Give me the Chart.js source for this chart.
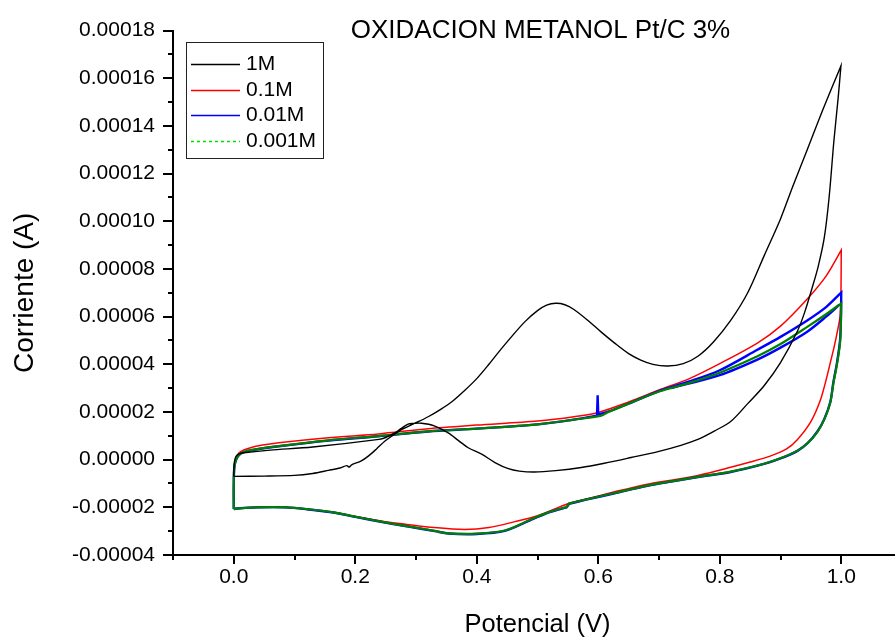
<!DOCTYPE html>
<html lang="es">
<head>
<meta charset="utf-8">
<title>OXIDACION METANOL Pt/C 3%</title>
<script src="https://cdn.jsdelivr.net/npm/chart.js@4.4.1/dist/chart.umd.min.js"></script>
<style>
  html, body { margin: 0; padding: 0; background: #fff; overflow: hidden; }
  #wrap { width: 895px; height: 642px; overflow: hidden; }
</style>
</head>
<body>
<div id="wrap"><canvas id="cv" width="912" height="642"></canvas></div>
<script>
// voltametria ciclica, Pt/C 3% en metanol (potencial en V, corriente en A)
// los puntos repetidos marcan esquinas (la curva se suaviza con tension)
const titulo = "OXIDACION METANOL Pt/C 3%";
const etiquetas = ["1M", "0.1M", "0.01M", "0.001M"];

const xTicks = [-0.1, 0.0, 0.1, 0.2, 0.3, 0.4, 0.5, 0.6, 0.7, 0.8, 0.9, 1.0, 1.1];
const yTicks = [-0.00004, -0.00003, -0.00002, -0.00001, 0.0, 0.00001, 0.00002, 0.00003,
  0.00004, 0.00005, 0.00006, 0.00007, 0.00008, 0.00009, 0.0001, 0.00011, 0.00012,
  0.00013, 0.00014, 0.00015, 0.00016, 0.00017, 0.00018];

// 1M : barrido ida + vuelta
const pot1M = [0.000, 0.05, 0.10, 0.13, 0.156, 0.175, 0.186, 0.190, 0.194, 0.21,
  0.222, 0.235, 0.249, 0.262, 0.276, 0.30, 0.32, 0.34, 0.36, 0.38,
  0.40, 0.42, 0.435, 0.457, 0.479, 0.50, 0.515, 0.53, 0.545, 0.56,
  0.583, 0.605, 0.627, 0.65, 0.67, 0.69, 0.714, 0.74, 0.764, 0.79,
  0.818, 0.846, 0.873, 0.90, 0.92, 0.944, 0.97, 0.9995, 0.9995,
  0.995, 0.988, 0.98, 0.972, 0.962, 0.952, 0.94, 0.928, 0.90, 0.873,
  0.846, 0.818, 0.791, 0.764, 0.736, 0.70, 0.654, 0.61, 0.572, 0.53,
  0.495, 0.47, 0.452, 0.43, 0.408, 0.386, 0.37, 0.353, 0.33, 0.309,
  0.295, 0.287, 0.275, 0.265, 0.25, 0.239, 0.13, 0.06, 0.02, 0.01,
  0.004, 0.001, 0.000];
const cor1M = [-7.0e-6, -6.9e-6, -6.6e-6, -5.8e-6, -4.5e-6, -3.5e-6, -2.5e-6, -3.1e-6, -2.2e-6, -0.5e-6,
  1.6e-6, 4.5e-6, 7.8e-6, 1.02e-5, 1.26e-5, 1.55e-5, 1.8e-5, 2.1e-5, 2.45e-5, 2.9e-5,
  3.4e-5, 4.0e-5, 4.48e-5, 5.15e-5, 5.78e-5, 6.25e-5, 6.48e-5, 6.56e-5, 6.5e-5, 6.3e-5,
  5.84e-5, 5.35e-5, 4.89e-5, 4.45e-5, 4.18e-5, 4.0e-5, 3.93e-5, 4.03e-5, 4.34e-5, 4.95e-5,
  5.84e-5, 7.0e-5, 8.55e-5, 1.01e-4, 1.145e-4, 1.3e-4, 1.47e-4, 1.652e-4, 1.652e-4,
  1.52e-4, 1.34e-4, 1.1e-4, 9.3e-5, 8.1e-5, 7.2e-5, 6.2e-5, 5.4e-5, 4.07e-5, 3.1e-5,
  2.35e-5, 1.6e-5, 1.2e-5, 8.5e-6, 6.0e-6, 3.5e-6, 9e-7, -1.5e-6, -3.3e-6, -4.6e-6,
  -5.2e-6, -4.8e-6, -3.8e-6, -1.2e-6, 2.3e-6, 5.0e-6, 8.0e-6, 1.12e-5, 1.42e-5, 1.53e-5,
  1.52e-5, 1.49e-5, 1.3e-5, 1.12e-5, 9.3e-6, 8.5e-6, 5.3e-6, 4.0e-6, 3.0e-6, 2.5e-6,
  1.5e-6, -1e-6, -7.0e-6];

// 0.1M
const pot01M = [0.000, 0.000, 0.001, 0.003, 0.006, 0.012, 0.025, 0.045, 0.074, 0.156,
  0.238, 0.32, 0.40, 0.50, 0.56, 0.60, 0.65, 0.70, 0.75, 0.80,
  0.862, 0.90, 0.944, 0.975, 1.000, 1.000,
  0.9995, 0.998, 0.993, 0.988, 0.982, 0.974, 0.965, 0.95, 0.928, 0.91,
  0.884, 0.85, 0.818, 0.764, 0.72, 0.681, 0.627, 0.58, 0.55, 0.50,
  0.463, 0.42, 0.38, 0.33, 0.28, 0.249, 0.20, 0.167, 0.12, 0.085,
  0.04, 0.01, 0.000];
const cor01M = [-2.05e-5, -1.0e-5, -3.0e-6, 0, 2.0e-6, 3.5e-6, 4.8e-6, 6.0e-6, 7.1e-6, 9.2e-6,
  1.08e-5, 1.3e-5, 1.45e-5, 1.62e-5, 1.8e-5, 1.98e-5, 2.42e-5, 2.92e-5, 3.4e-5, 4.03e-5,
  4.89e-5, 5.6e-5, 6.74e-5, 7.7e-5, 8.79e-5, 8.79e-5,
  7.0e-5, 6.0e-5, 5.3e-5, 4.7e-5, 4.07e-5, 3.24e-5, 2.45e-5, 1.6e-5, 8.5e-6, 4.5e-6,
  1.6e-6, -1.0e-6, -3.2e-6, -6.6e-6, -8.6e-6, -1.03e-5, -1.35e-5, -1.65e-5, -1.85e-5, -2.35e-5,
  -2.6e-5, -2.85e-5, -2.93e-5, -2.85e-5, -2.7e-5, -2.6e-5, -2.38e-5, -2.23e-5, -2.08e-5, -2.0e-5,
  -2.0e-5, -2.03e-5, -2.05e-5];

// 0.01M
const pot001M = [0.000, 0.000, 0.001, 0.004, 0.008, 0.015, 0.03, 0.074, 0.156, 0.238,
  0.32, 0.40, 0.50, 0.56, 0.598, 0.598, 0.599, 0.599, 0.600, 0.600,
  0.615, 0.65, 0.70, 0.75, 0.80, 0.862, 0.90, 0.944, 0.975, 1.000, 1.000,
  0.9995, 0.998, 0.993, 0.987, 0.982, 0.972, 0.961, 0.945, 0.928, 0.90,
  0.873, 0.818, 0.764, 0.72, 0.681, 0.627, 0.58, 0.552, 0.552, 0.548, 0.548, 0.52,
  0.49, 0.446, 0.40, 0.353, 0.331, 0.29, 0.249, 0.20, 0.167, 0.12,
  0.085, 0.04, 0.01, 0.000];
const cor001M = [-2.07e-5, -1.0e-5, -3.0e-6, 0, 1.8e-6, 3.0e-6, 4.0e-6, 5.6e-6, 8.0e-6, 9.8e-6,
  1.18e-5, 1.3e-5, 1.48e-5, 1.68e-5, 1.85e-5, 1.85e-5, 2.7e-5, 2.7e-5, 1.9e-5, 1.9e-5,
  2.0e-5, 2.35e-5, 2.88e-5, 3.28e-5, 3.75e-5, 4.61e-5, 5.15e-5, 5.84e-5, 6.4e-5, 7.01e-5, 7.01e-5,
  6.0e-5, 5.0e-5, 4.07e-5, 3.24e-5, 2.42e-5, 1.7e-5, 1.19e-5, 7.0e-6, 3.7e-6, 5e-7,
  -1.8e-6, -5.2e-6, -7.3e-6, -9.2e-6, -1.1e-5, -1.41e-5, -1.68e-5, -1.85e-5, -1.85e-5, -2.0e-5, -2.0e-5, -2.2e-5,
  -2.52e-5, -2.99e-5, -3.12e-5, -3.1e-5, -3.0e-5, -2.82e-5, -2.64e-5, -2.4e-5, -2.23e-5, -2.08e-5,
  -2.0e-5, -2.0e-5, -2.04e-5, -2.07e-5];
// 0.01M, segundo trazo cerca de 1 V
const pot001Mb = [0.72, 0.80, 0.862, 0.90, 0.944, 0.975, 0.997];
const cor001Mb = [3.0e-5, 3.55e-5, 4.2e-5, 4.7e-5, 5.37e-5, 6.0e-5, 6.5e-5];

// 0.001M
const pot0001M = [0.000, 0.000, 0.001, 0.004, 0.008, 0.015, 0.03, 0.074, 0.156, 0.238,
  0.32, 0.40, 0.50, 0.56, 0.605, 0.615, 0.65, 0.70, 0.75, 0.80,
  0.862, 0.90, 0.944, 0.975, 1.000, 1.000,
  0.9995, 0.998, 0.993, 0.987, 0.982, 0.972, 0.961, 0.945, 0.928, 0.90,
  0.873, 0.818, 0.764, 0.72, 0.681, 0.627, 0.58, 0.552, 0.552, 0.548, 0.548, 0.52,
  0.49, 0.446, 0.40, 0.353, 0.331, 0.29, 0.249, 0.20, 0.167, 0.12,
  0.085, 0.04, 0.01, 0.000];
const cor0001M = [-2.07e-5, -1.0e-5, -3.0e-6, 0, 1.8e-6, 3.0e-6, 4.1e-6, 5.7e-6, 8.1e-6, 9.9e-6,
  1.19e-5, 1.3e-5, 1.48e-5, 1.68e-5, 1.85e-5, 1.98e-5, 2.35e-5, 2.86e-5, 3.22e-5, 3.65e-5,
  4.34e-5, 4.85e-5, 5.57e-5, 6.1e-5, 6.56e-5, 6.56e-5,
  5.8e-5, 4.9e-5, 4.0e-5, 3.2e-5, 2.4e-5, 1.68e-5, 1.18e-5, 7.0e-6, 3.8e-6, 6e-7,
  -1.7e-6, -5.0e-6, -7.2e-6, -9.1e-6, -1.09e-5, -1.4e-5, -1.67e-5, -1.84e-5, -1.84e-5, -1.99e-5, -1.99e-5, -2.19e-5,
  -2.5e-5, -2.97e-5, -3.1e-5, -3.09e-5, -2.99e-5, -2.81e-5, -2.63e-5, -2.39e-5, -2.22e-5, -2.07e-5,
  -2.0e-5, -2.0e-5, -2.04e-5, -2.07e-5];

const FONT = "Arial, 'Liberation Sans', sans-serif";
const pares = (xs, ys) => xs.map((x, i) => ({ x: x, y: ys[i] }));

Chart.defaults.font.family = FONT;
Chart.defaults.color = "#000";

// ticks mayores / menores hacia afuera
const ticksPlugin = {
  id: "ejeTicks",
  afterDraw(chart) {
    const ctx = chart.ctx;
    const xs = chart.scales.x, ys = chart.scales.y;
    const area = chart.chartArea;
    ctx.save();
    ctx.strokeStyle = "#000";
    ctx.lineWidth = 2;
    ctx.beginPath();
    xs.ticks.forEach((t) => {
      const px = Math.round(xs.getPixelForValue(t.value));
      const len = Math.round(t.value * 10) % 2 === 0 ? 9 : 5;
      ctx.moveTo(px, area.bottom);
      ctx.lineTo(px, area.bottom + len);
    });
    ys.ticks.forEach((t) => {
      const py = Math.round(ys.getPixelForValue(t.value));
      const len = Math.round(t.value * 1e5) % 2 === 0 ? 10 : 5;
      ctx.moveTo(area.left, py);
      ctx.lineTo(area.left - len, py);
    });
    ctx.stroke();
    ctx.restore();
  },
};

// titulo dentro del area y leyenda con recuadro
const rotulosPlugin = {
  id: "rotulos",
  afterDraw(chart) {
    const ctx = chart.ctx;
    const area = chart.chartArea;
    ctx.save();
    ctx.fillStyle = "#000";
    ctx.font = "26px " + FONT;
    ctx.textAlign = "center";
    ctx.textBaseline = "middle";
    ctx.fillText(titulo, (area.left + area.right) / 2 + 3, 31);

    ctx.fillStyle = "#fff";
    ctx.fillRect(186.5, 42.5, 137, 116);
    ctx.strokeStyle = "#222";
    ctx.lineWidth = 1;
    ctx.strokeRect(186.5, 42.5, 137, 116);
    ctx.font = "21px " + FONT;
    ctx.textAlign = "left";
    etiquetas.forEach((lab, i) => {
      const ds = chart.data.datasets[i];
      const y = Math.round(64 + i * 25.7) + 0.5;
      ctx.strokeStyle = ds.legendColor || ds.borderColor;
      ctx.setLineDash(ds.legendDash || []);
      ctx.lineWidth = 1.5;
      ctx.beginPath();
      ctx.moveTo(191, y);
      ctx.lineTo(240, y);
      ctx.stroke();
      ctx.setLineDash([]);
      ctx.fillStyle = "#000";
      ctx.fillText(lab, 246, y);
    });
    ctx.restore();
  },
};

const serie = (label, data, color, width, order) => ({
  label: label,
  data: data,
  borderColor: color,
  borderWidth: width,
  showLine: true,
  pointRadius: 0,
  fill: false,
  tension: 0.3,
  order: order,
});

const dsGreen = serie(etiquetas[3], pares(pot0001M, cor0001M), "#008000", 2.2, 1);
dsGreen.legendColor = "#00e000";
dsGreen.legendDash = [3, 3];

new Chart(document.getElementById("cv"), {
  type: "scatter",
  data: {
    datasets: [
      serie(etiquetas[0], pares(pot1M, cor1M), "#000000", 1.4, 0),
      serie(etiquetas[1], pares(pot01M, cor01M), "#ff0000", 1.5, 4),
      serie(etiquetas[2], pares(pot001M, cor001M), "#0000ff", 2.4, 3),
      dsGreen,
      serie(etiquetas[2], pares(pot001Mb, cor001Mb), "#0000ff", 2.4, 2),
    ],
  },
  options: {
    responsive: false,
    animation: false,
    devicePixelRatio: 1,
    layout: { padding: { top: 21, right: 7, left: 0, bottom: 0 } },
    plugins: { legend: { display: false }, tooltip: { enabled: false } },
    scales: {
      x: {
        type: "linear",
        position: "bottom",
        min: -0.1,
        max: 1.1,
        afterBuildTicks: (s) => { s.ticks = xTicks.map((v) => ({ value: v })); },
        afterFit: (s) => { s.height = 87; },
        ticks: {
          autoSkip: false,
          maxRotation: 0,
          padding: 10,
          font: { size: 21 },
          color: "#000",
          callback: (v) => (Math.round(v * 10) % 2 === 0 && v > -0.05 && v < 1.05 ? Number(v).toFixed(1) : ""),
        },
        grid: { display: false, drawTicks: false },
        border: { display: true, color: "#000", width: 2 },
        title: { display: true, text: "Potencial (V)", font: { size: 25.5 }, color: "#000", padding: { top: 0, bottom: 2 } },
      },
      y: {
        type: "linear",
        min: -0.00004,
        max: 0.00018,
        afterBuildTicks: (s) => { s.ticks = yTicks.map((v) => ({ value: v })); },
        afterFit: (s) => { s.width = 173; },
        ticks: {
          autoSkip: false,
          padding: 18,
          font: { size: 21 },
          color: "#000",
          callback: (v) => (Math.round(v * 1e5) % 2 === 0 ? Number(v).toFixed(5) : ""),
        },
        grid: { display: false, drawTicks: false },
        border: { display: true, color: "#000", width: 2 },
        title: { display: true, text: "Corriente (A)", font: { size: 28 }, color: "#000", padding: { top: 8, bottom: 0 } },
      },
    },
  },
  plugins: [ticksPlugin, rotulosPlugin],
});
</script>
</body>
</html>
